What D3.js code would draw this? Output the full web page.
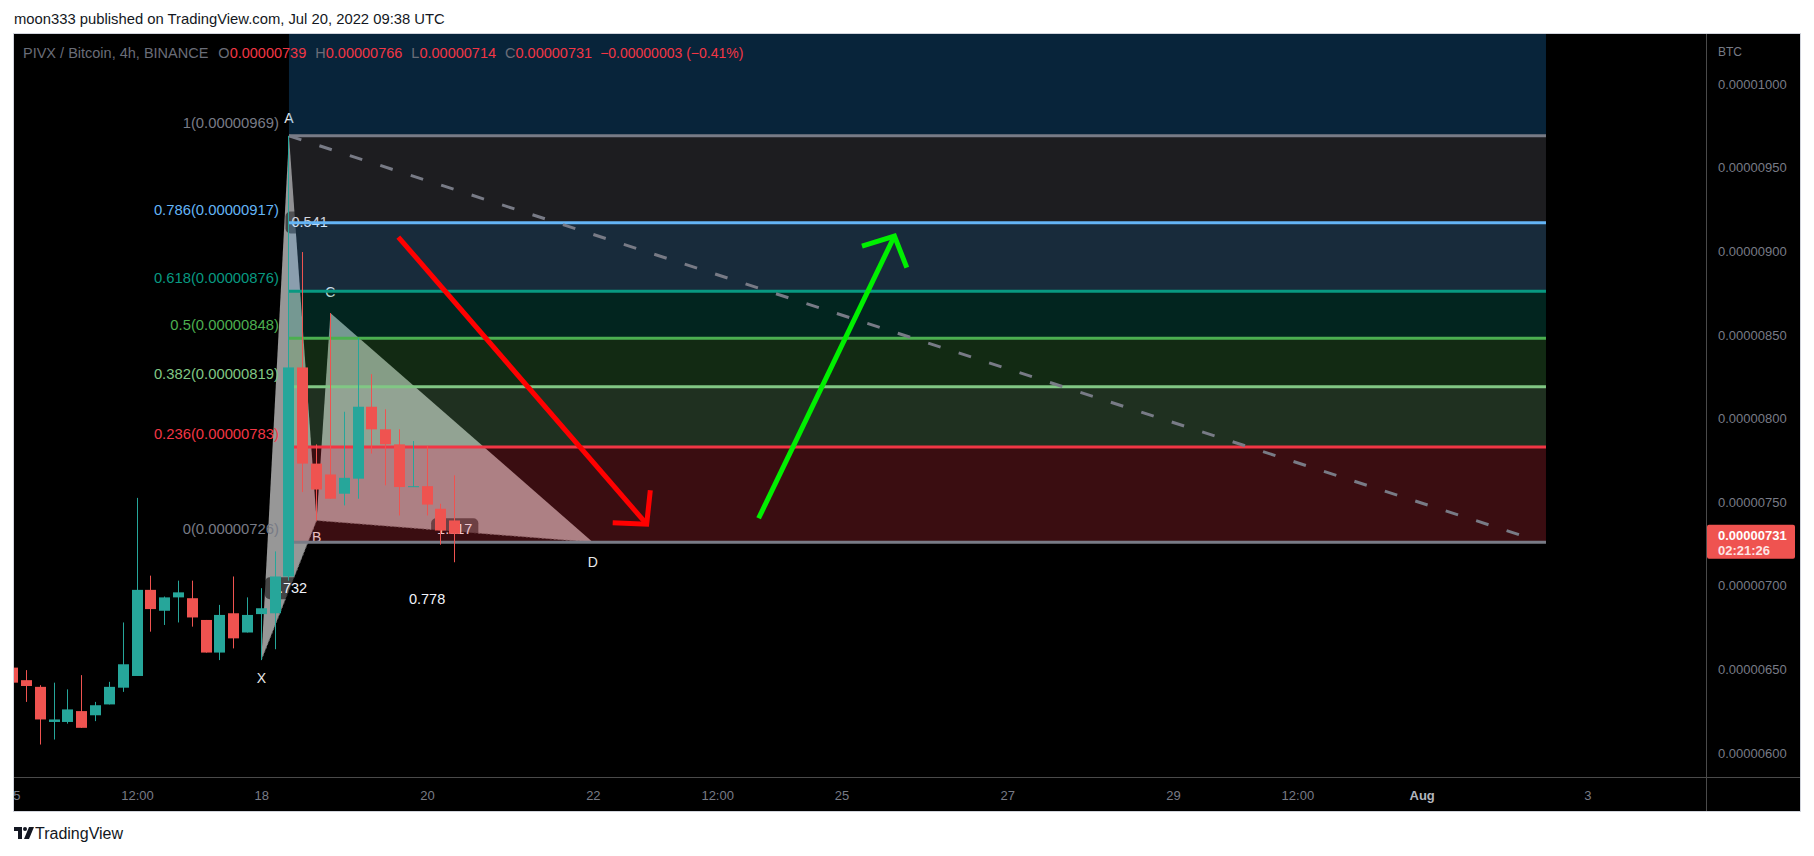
<!DOCTYPE html>
<html><head><meta charset="utf-8">
<script src="https://cdn.jsdelivr.net/npm/d3@7"></script>
<style>
html,body{margin:0;padding:0;background:#fff;}
svg{display:block;}
text{font-family:"Liberation Sans",Arial,sans-serif;}
</style></head><body>
<svg id="c" width="1814" height="856"></svg>
<script>
// ---------------- DATA (prices in satoshi, 1e-8 BTC) ----------------
const candleTimes = [
 "2022-07-15T00:00Z","2022-07-15T04:00Z","2022-07-15T08:00Z","2022-07-15T12:00Z","2022-07-15T16:00Z","2022-07-15T20:00Z",
 "2022-07-16T00:00Z","2022-07-16T04:00Z","2022-07-16T08:00Z","2022-07-16T12:00Z","2022-07-16T16:00Z","2022-07-16T20:00Z",
 "2022-07-17T00:00Z","2022-07-17T04:00Z","2022-07-17T08:00Z","2022-07-17T12:00Z","2022-07-17T16:00Z","2022-07-17T20:00Z",
 "2022-07-18T00:00Z","2022-07-18T04:00Z","2022-07-18T08:00Z","2022-07-18T12:00Z","2022-07-18T16:00Z","2022-07-18T20:00Z",
 "2022-07-19T00:00Z","2022-07-19T04:00Z","2022-07-19T08:00Z","2022-07-19T12:00Z","2022-07-19T16:00Z","2022-07-19T20:00Z",
 "2022-07-20T00:00Z","2022-07-20T04:00Z","2022-07-20T08:00Z"];
const opens  = [651,643.5,639.5,618.5,618.5,625, 622.5,629,639,646,697.5,685, 693,692.5,679.5,660,683.5,672, 683,683.5,705.5,830.5,773,766.5, 755,764,807,793.5,784.5,759, 759.5,746,739];
const highs  = [652,649.5,640.5,642,638,646.5, 630.5,642.5,678,752.5,706,693.5, 703,703,679.5,688.5,705.5,693, 698.5,720.5,969,899.5,784.5,863, 804,848,826.5,805.5,793.5,786.5, 783.5,749,766];
const lows   = [641,630.5,605,608,617.5,615, 619,629,636.5,646,672.5,676.5, 678,675.5,660,655.5,662.5,672, 655.5,662,703,756,739,752, 748,752,779,760,742,759, 742,724.5,714];
const closes = [642,640,620,620,626,615, 628.5,639.5,653,697.5,686,693, 696,681,660,682.5,668.5,682.5, 686.5,705.5,830.5,773,757.5,752, 764.5,807,793.5,784.5,759,759.5, 748.5,733,731];

const priceTicks = [600,650,700,750,800,850,900,950,1000];
const timeTickDates  = ["2022-07-15T00:00Z","2022-07-16T12:00Z","2022-07-18T00:00Z","2022-07-20T00:00Z","2022-07-22T00:00Z","2022-07-23T12:00Z","2022-07-25T00:00Z","2022-07-27T00:00Z","2022-07-29T00:00Z","2022-07-30T12:00Z","2022-08-01T00:00Z","2022-08-03T00:00Z"];
const timeTickLabels = ["15","12:00","18","20","22","12:00","25","27","29","12:00","Aug","3"];

const fibRatios = [1, 0.786, 0.618, 0.5, 0.382, 0.236, 0];
const fibPrices = [969, 917, 876, 848, 819, 783, 726];
const fibTopPrice = 1119;            // 1.618 level, above the visible range
const fibTimes = ["2022-07-18T08:00Z","2022-08-02T12:00Z"];

const patternLabels = ["X","A","B","C","D"];
const patternTimes  = ["2022-07-18T00:00Z","2022-07-18T08:00Z","2022-07-18T16:00Z","2022-07-18T20:00Z","2022-07-22T00:00Z"];
const patternPrices = [655.5, 969, 739, 863, 726];
const ratioPairs  = [[0,2],[1,3],[2,4],[0,4]];
const ratioLabels = ["0.732","0.541","1.117","0.778"];

const trendTimes  = ["2022-07-18T08:00Z","2022-08-02T08:00Z"];
const trendPrices = [969, 728];
const redArrowTimes    = ["2022-07-19T15:40Z","2022-07-22T15:35Z"];
const redArrowPrices   = [908.5, 736.8];
const greenArrowTimes  = ["2022-07-24T00:00Z","2022-07-25T15:20Z"];
const greenArrowPrices = [740.3, 909.1];

const lastPrice = 731;
const countdown = "02:21:26";
const headerText = "moon333 published on TradingView.com, Jul 20, 2022 09:38 UTC";
const symbolText = "PIVX / Bitcoin, 4h, BINANCE";
const ohlcLegend = [["O","0.00000739"],["H","0.00000766"],["L","0.00000714"],["C","0.00000731"]];
const changeText = "\u22120.00000003 (\u22120.41%)";

// ---------------- STYLES ----------------
const fibColors  = ["#787b86","#64b5f6","#089981","#4caf50","#81c784","#f23645","#787b86"];
const zoneColors = ["#2196f3","#787b86","#64b5f6","#089981","#4caf50","#81c784","#f23645"];
const upColor = "#26a69a", downColor = "#ef5350";
const labelOffsets = [18,-18,17,-21,20];

// ---------------- LAYOUT ----------------
const W = 1814, H = 856;
const L = 13, T = 33, R = 1801, B = 812, PR = 1706, PB = 777;
const svg = d3.select("#c");
const P = s => new Date(s);
const x = d3.scaleUtc().domain([P("2022-07-15T00:00Z"), P("2022-08-05T00:00Z")]).range([12.7, 12.7 + 21*82.88]);
const y = d3.scaleLinear().domain([600, 1000]).range([752.9, 84]);

svg.append("rect").attr("width",W).attr("height",H).attr("fill","#fff");
svg.append("text").attr("x",14).attr("y",19).attr("dominant-baseline","central")
  .attr("font-size","14.8px").attr("fill","#131722").text(headerText);

svg.append("rect").attr("x",L+0.5).attr("y",T+0.5).attr("width",R-L-1).attr("height",B-T-1)
  .attr("fill","#000").attr("stroke","#d1d4dc");

const defs = svg.append("defs");
defs.append("clipPath").attr("id","plotClip").append("rect").attr("x",L+1).attr("y",T+1).attr("width",PR-L-1).attr("height",PB-T-1);
defs.append("clipPath").attr("id","timeClip").append("rect").attr("x",L+1).attr("y",PB).attr("width",PR-L-1).attr("height",B-PB);

const plot = svg.append("g").attr("clip-path","url(#plotClip)");

// pattern triangles
const pts = patternTimes.map((t,i)=>[x(P(t)), y(patternPrices[i])]);
const poly = d3.line();
plot.append("path").attr("d", poly([pts[0],pts[1],pts[2]])+"Z").attr("fill","#979797");
plot.append("path").attr("d", poly([pts[2],pts[3],pts[4]])+"Z").attr("fill","#979797");
plot.append("path").attr("d", poly([pts[0],pts[2],pts[4]])).attr("fill","none")
  .attr("stroke","#6a6a6a").attr("stroke-width",1).attr("stroke-dasharray","2,2");

// ratio labels
ratioPairs.forEach((pr,i)=>{
  const mx = (pts[pr[0]][0]+pts[pr[1]][0])/2, my = (pts[pr[0]][1]+pts[pr[1]][1])/2 - 2;
  const g = plot.append("g");
  const bg = g.append("rect");
  const t = g.append("text").attr("x",mx).attr("y",my).attr("text-anchor","middle")
    .attr("dominant-baseline","central").attr("font-size","14.5px").attr("fill","#f0f3fa").text(ratioLabels[i]);
  const w = t.node().getComputedTextLength();
  bg.attr("x",mx-w/2-6).attr("y",my-11).attr("width",w+12).attr("height",22).attr("rx",5)
    .attr("fill","rgba(0,0,0,0.55)");
});

// point labels
patternLabels.forEach((lab,i)=>{
  plot.append("text").attr("x",pts[i][0]).attr("y",pts[i][1]+labelOffsets[i])
    .attr("text-anchor","middle").attr("dominant-baseline","central")
    .attr("font-size","14px").attr("fill","#e8e8e8").text(lab);
});

// fib zones
const fx0 = x(P(fibTimes[0])), fx1 = x(P(fibTimes[1]));
const zoneTops = [fibTopPrice].concat(fibPrices.slice(0,-1));
zoneTops.forEach((top,i)=>{
  const bot = fibPrices[i];
  plot.append("rect").attr("x",fx0).attr("width",fx1-fx0)
    .attr("y",y(top)).attr("height",y(bot)-y(top))
    .attr("fill",zoneColors[i]).attr("fill-opacity",0.24);
});
// fib lines and labels
fibPrices.forEach((p,i)=>{
  plot.append("line").attr("x1",fx0).attr("x2",fx1).attr("y1",y(p)).attr("y2",y(p))
    .attr("stroke",fibColors[i]).attr("stroke-width",3);
  plot.append("text").attr("x",fx0-10).attr("y",y(p)-13).attr("text-anchor","end")
    .attr("dominant-baseline","central").attr("font-size","14.8px").attr("fill",fibColors[i])
    .text(fibRatios[i]+"("+(p*1e-8).toFixed(8)+")");
});

// dashed trend line
plot.append("line")
  .attr("x1",x(P(trendTimes[0]))).attr("y1",y(trendPrices[0]))
  .attr("x2",x(P(trendTimes[1]))).attr("y2",y(trendPrices[1]))
  .attr("stroke","#787b86").attr("stroke-width",3).attr("stroke-dasharray","13,19");

// candles
const cg = plot.append("g");
candleTimes.forEach((t,i)=>{
  const cx = x(P(t));
  const up = closes[i] >= opens[i];
  const col = up ? upColor : downColor;
  const bx = Math.round(cx-5.5);
  cg.append("line").attr("x1",bx+5.5).attr("x2",bx+5.5).attr("y1",y(highs[i])).attr("y2",y(lows[i]))
    .attr("stroke",col).attr("stroke-width",1);
  const yt = y(Math.max(opens[i],closes[i])), yb = y(Math.min(opens[i],closes[i]));
  cg.append("rect").attr("x",bx).attr("width",11).attr("y",yt).attr("height",Math.max(1,yb-yt)).attr("fill",col);
});

// arrows
function arrow(times, prices, color){
  const s = [x(P(times[0])), y(prices[0])], e = [x(P(times[1])), y(prices[1])];
  const dx = s[0]-e[0], dy = s[1]-e[1], len = Math.hypot(dx,dy);
  const ux = dx/len, uy = dy/len, a = 47*Math.PI/180, hl = 34;
  const rot = ang => [e[0] + hl*(Math.cos(ang)*ux - Math.sin(ang)*uy), e[1] + hl*(Math.sin(ang)*ux + Math.cos(ang)*uy)];
  plot.append("line").attr("x1",s[0]).attr("y1",s[1]).attr("x2",e[0]).attr("y2",e[1])
    .attr("stroke",color).attr("stroke-width",5);
  plot.append("path").attr("d", d3.line()([rot(a), e, rot(-a)])).attr("fill","none")
    .attr("stroke",color).attr("stroke-width",5).attr("stroke-linejoin","miter");
}
arrow(redArrowTimes, redArrowPrices, "#ff0000");
arrow(greenArrowTimes, greenArrowPrices, "#00f000");

// legend
const lg = svg.append("text").attr("x",23).attr("y",53).attr("dominant-baseline","central").attr("font-size","14.5px");
lg.append("tspan").attr("fill","#6a6d78").text(symbolText);
ohlcLegend.forEach(([k,v],i)=>{
  lg.append("tspan").attr("dx", i===0 ? 10 : 9).attr("fill","#6a6d78").text(k);
  lg.append("tspan").attr("fill","#f23645").text(v);
});
lg.append("tspan").attr("dx",8).attr("fill","#f23645").attr("font-size","14px").text(changeText);

// separators
svg.append("line").attr("x1",PR+0.5).attr("x2",PR+0.5).attr("y1",T+1).attr("y2",B-1).attr("stroke","#4a4a4a");
svg.append("line").attr("x1",L+1).attr("x2",R-1).attr("y1",PB+0.5).attr("y2",PB+0.5).attr("stroke","#4a4a4a");

// price axis
const ya = svg.append("g").attr("transform",`translate(${PR},0)`)
  .call(d3.axisRight(y).tickValues(priceTicks).tickSize(0).tickPadding(12).tickFormat(d=>(d*1e-8).toFixed(8)));
ya.select(".domain").remove();
ya.selectAll("text").attr("font-size","13px").attr("fill","#787b86").attr("font-family","Liberation Sans, Arial, sans-serif");
svg.append("text").attr("x",1718).attr("y",52).attr("dominant-baseline","central").attr("font-size","12px").attr("fill","#787b86").text("BTC");

// last price tag
const ly = y(lastPrice);
svg.append("rect").attr("x",PR+1).attr("y",ly-9).attr("width",88).attr("height",34).attr("rx",2).attr("fill","#ef5350");
svg.append("text").attr("x",1718).attr("y",ly+2).attr("dominant-baseline","central").attr("font-size","13px")
  .attr("font-weight","bold").attr("fill","#ffffff").text((lastPrice*1e-8).toFixed(8));
svg.append("text").attr("x",1718).attr("y",ly+17).attr("dominant-baseline","central").attr("font-size","13px")
  .attr("font-weight","bold").attr("fill","#fde4e4").text(countdown);

// time axis
const xaWrap = svg.append("g").attr("clip-path","url(#timeClip)");
const xa = xaWrap.append("g").attr("transform",`translate(0,${PB})`)
  .call(d3.axisBottom(x).tickValues(timeTickDates.map(P)).tickSize(0).tickPadding(14).tickFormat((d,i)=>timeTickLabels[i]));
xa.select(".domain").remove();
xa.selectAll("text").attr("font-size","13px").attr("fill","#787b86").attr("font-family","Liberation Sans, Arial, sans-serif")
  .filter((d,i)=>timeTickLabels[i]==="Aug").attr("font-weight","bold").attr("fill","#b2b5be");

// TradingView logo
const logo = svg.append("g").attr("transform","translate(14,827)").attr("fill","#131722");
logo.append("path").attr("d","M0 0H8V12H4V4H0Z");
logo.append("circle").attr("cx",11).attr("cy",2).attr("r",2);
logo.append("path").attr("d","M15 0H20L15 12H10Z");
svg.append("text").attr("x",35).attr("y",833).attr("dominant-baseline","central").attr("font-size","16px")
  .attr("fill","#131722").text("TradingView");
</script>
</body></html>
